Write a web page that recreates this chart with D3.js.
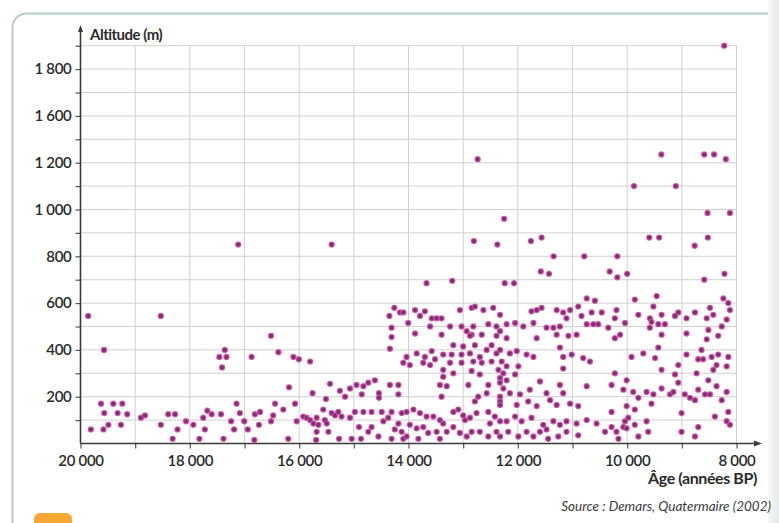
<!DOCTYPE html>
<html>
<head>
<meta charset="utf-8">
<script src="https://cdn.jsdelivr.net/npm/d3@7"></script>
<style>
  html, body { margin: 0; padding: 0; background: #fff; }
  svg { display: block; }
  text { font-family: Lato, "Open Sans", "DejaVu Sans", sans-serif; fill: #2a2a2a; }
</style>
</head>
<body>
<svg id="chart" width="779" height="523"></svg>
<script>
// Ages (years BP) on the horizontal axis, oldest on the left
const xTickValues = d3.range(20000, 7999, -1000);
const xLabelValues = [20000, 18000, 16000, 14000, 12000, 10000, 8000];
// Altitude ticks as printed on the vertical axis (note the jump 1 200 -> 1 600)
const yLabelValues = [200, 400, 600, 800, 1000, 1200, 1600, 1800];
const yGridValues = [100, 200, 300, 400, 500, 600, 700, 800, 900, 1000, 1100, 1200, 1400, 1600, 1700, 1800, 1900];

const yAxisTitle = "Altitude (m)";
const xAxisTitle = "Âge (années BP)";
const sourceNote = "Source : Demars, Quatermaire (2002)";

// Sites [age BP, altitude m] — before 17 000 BP
const sitesOldest = [
  [19860,545],[18530,545],[19570,400],[17460,370],[17360,400],[17330,370],[17410,325],
  [19625,170],[19400,170],[19235,170],[19565,130],[19320,130],[19145,125],[19810,60],[19580,60],
  [19490,80],[19260,80],[18895,110],[18820,120],[18530,80],[18395,125],[18270,125],[18225,60],
  [18315,20],[18070,95],[17935,80],[17825,20],[17755,110],[17680,140],[17600,125],[17725,60],
  [17430,125],[17385,20],[17245,95],[17190,60],[17145,170],[17115,850]
];

// Sites between 17 000 and 14 000 BP
const sitesLateGlacial = [
  [14350,545],[14260,580],[14155,560],[14095,560],[14310,495],[14310,455],[14340,405],[14095,345],
  [16515,460],[16870,370],[16380,390],[16105,370],[16005,360],[15800,350],[16185,240],[15755,215],
  [15435,255],[15510,190],[15255,225],[15160,200],[15070,235],[14950,250],[14825,245],[14735,260],
  [14615,270],[14855,210],[14540,215],[14540,195],[14340,250],[14185,250],[14185,210],
  [17085,130],[17005,95],[16940,60],[16820,15],[16810,125],[16715,135],[16735,80],[16515,95],
  [16475,120],[16440,170],[16290,145],[16200,20],[16075,170],[16045,95],[15925,115],[15865,110],
  [15800,100],[15740,85],[15680,110],[15650,80],[15560,145],[15530,100],[15495,85],[15405,130],
  [15345,120],[15285,135],[15225,115],[15070,110],[14980,135],[14825,135],[14675,135],[14490,135],
  [14310,135],[14125,130],[15680,50],[15690,15],[15465,50],[15270,20],[15040,20],[14870,20],
  [14905,70],[14735,50],[14675,70],[14550,30],[14460,95],[14370,110],[14310,20],[14250,60],
  [14185,85],[14125,50],[14095,20],[15405,850]
];

// Sites between 14 000 and 11 000 BP
const sitesBolling = [
  [13880,570],[13790,545],[13700,565],[13575,535],[13485,535],[13395,535],[13060,570],[12845,580],
  [12785,585],[12630,570],[12450,580],[12325,550],[11750,565],[11655,570],[11565,580],[11290,570],
  [11170,560],[11110,535],
  [14005,515],[13605,500],[13240,500],[13030,500],[12935,480],[12845,465],[12815,500],[12540,510],
  [12390,500],[12325,480],[12205,510],[12050,515],[11900,500],[11715,515],[11475,495],[11350,495],
  [11230,500],[13880,470],[13395,465],[12875,460],[12660,465],[12390,460],[12205,450],[11655,450],
  [11290,465],
  [13180,420],[13000,415],[12785,420],[12480,420],[12325,400],[14035,370],[13850,385],[13700,370],
  [13575,395],[13515,360],[13365,380],[13210,380],[13030,380],[12875,385],[12695,370],[12570,400],
  [12390,385],[12145,385],[12020,395],[11840,380],[11715,370],[11230,410],[11170,370],[13730,345],
  [13605,335],[13240,345],[13030,345],[12815,350],[12660,345],[12480,350],[12295,350],[12205,330],
  [12355,315],[12265,300],[11990,330],[13975,335],[11170,320],
  [13365,315],[13365,285],[13180,300],[12845,310],[12695,295],[12325,280],[12205,270],[12050,295],
  [13425,250],[13300,245],[12905,250],[12540,250],[12325,260],[12265,235],[12325,200],[12325,180],
  [13395,200],[12725,200],[12570,215],[12145,215],[11960,210],[11780,230],[11595,265],[11475,215],
  [11230,250],[11170,215],
  [12785,180],[12325,165],[12020,165],[11810,180],[11655,160],[11410,185],[11290,165],[14035,135],
  [13910,145],[13790,130],[13670,115],[13545,115],[13425,100],[13365,85],[13180,135],[13090,145],
  [13000,120],[12965,100],[12875,110],[12755,130],[12540,135],[12420,115],[12510,85],[12325,95],
  [12205,95],[12050,115],[11930,95],[11750,110],[11535,80],[11475,60],[11350,95],[11230,80],
  [11110,50],[13975,80],[13850,65],[13730,70],[13640,45],[13485,50],[13300,50],[13180,70],
  [13060,45],[12935,30],[12845,50],[12695,50],[12540,30],[12390,50],[12325,30],[12175,50],
  [11990,30],[11840,50],[11715,30],[11595,50],[11445,20],[11260,30],[14035,30],[13820,20],[13425,20],
  [12735,1230],[12250,960],[12805,865],[12375,850],[11760,865],[11565,880],[11345,800],
  [11580,735],[11430,725],[13670,685],[13200,695],[12240,685],[12070,685]
];

// Sites after 11 000 BP
const sitesHolocene = [
  [10740,620],[10590,610],[10895,585],[11045,570],[10835,545],[10650,560],[10465,560],[10195,570],
  [9860,615],[9795,550],[9460,630],[9520,585],[9370,550],[9585,535],[9555,520],[9430,510],
  [9310,510],[9065,560],[8915,535],[8760,560],[8485,580],[8545,535],[8425,550],[8240,620],
  [8150,600],[8120,570],[8180,530],[8270,500],[8335,460],[8515,485],[8545,445],[8915,470],
  [9125,545],[9585,495],[9370,465],[10040,515],[10225,535],[10345,495],[10225,450],[10130,465],
  [10530,510],[10620,510],[10740,510],[10925,465],[11075,460],
  [11015,380],[10805,365],[10680,350],[9920,370],[9705,385],[9490,365],[9430,410],[8915,380],
  [8640,400],[8700,360],[8610,360],[8455,370],[8335,380],[8365,335],[8425,315],[8150,370],[8180,330],
  [10225,300],[10010,270],[9370,315],[9125,295],[9065,335],[8730,300],[8515,270],[8365,245],
  [8180,220],[10740,245],[10285,250],[10070,230],[9890,220],[9795,195],[9645,220],[9520,210],
  [9370,235],[9215,210],[9155,220],[9065,260],[8945,210],[8850,195],[8760,185],[8700,230],
  [8575,210],[8485,210],[8270,185],[11045,170],[10895,160],
  [10285,135],[10010,160],[9860,145],[9980,110],[10040,95],[10070,70],[10010,65],[9860,80],
  [9645,95],[9555,170],[9005,130],[8395,115],[8150,135],[8120,80],[8180,95],[10925,85],
  [10740,100],[10560,85],[10405,50],[10285,70],[10195,50],[10160,20],[9795,30],[9615,50],
  [9005,50],[8700,70],[8760,30],[10895,35],[11110,95],
  [8225,1900],[9375,1270],[8590,1270],[8410,1270],[8195,1230],[9875,1100],[9110,1100],
  [8530,985],[8120,985],[9595,880],[9415,880],[8765,845],[8525,880],[10785,800],[10180,800],
  [10320,735],[10180,710],[10000,725],[8590,700],[8220,725]
];

const allSites = [].concat(sitesOldest, sitesLateGlacial, sitesBolling, sitesHolocene);

// ---- layout ----
const W = 779, H = 523;
const plot = { left: 80.5, right: 736.5, top: 45.7, bottom: 443.5 };
const step = (plot.bottom - plot.top) / 17; // one grid row

const svg = d3.select("#chart");

const fr = d3.formatLocale({ decimal: ",", thousands: "\u00a0", grouping: [3], currency: ["", " €"] });
const fmt = fr.format(",d");

const x = d3.scaleLinear().domain([20000, 8000]).range([plot.left, plot.right]);
// printed scale is linear up to 1 200, then one 200-m step covers 1 200 -> 1 600
const y = d3.scaleLinear()
  .domain([0, 1200, 1600, 1900])
  .range([plot.bottom, plot.bottom - 12 * step, plot.bottom - 14 * step, plot.bottom - 17 * step]);

// framed panel
svg.append("rect").attr("x", 0).attr("y", 0).attr("width", W).attr("height", H).attr("fill", "#ffffff");
svg.append("rect")
  .attr("x", 12.5).attr("y", 13.5).attr("width", 790).attr("height", 600).attr("rx", 14)
  .attr("fill", "#ffffff").attr("stroke", "#b7cbcf").attr("stroke-width", 2);
// page edge on the right
const grad = svg.append("defs").append("linearGradient").attr("id", "edge").attr("x1", 0).attr("x2", 1);
grad.append("stop").attr("offset", 0).attr("stop-color", "#f7f8f8");
grad.append("stop").attr("offset", 1).attr("stop-color", "#e4e7e8");
svg.append("rect").attr("x", 768).attr("y", 0).attr("width", 11).attr("height", H).attr("fill", "url(#edge)");
// tab at the bottom left
svg.append("rect").attr("x", 34).attr("y", 513).attr("width", 38).attr("height", 20).attr("rx", 6).attr("fill", "#f6a833");

// grid
const grid = svg.append("g").attr("stroke", "#d0d0d0").attr("stroke-width", 1);
grid.selectAll("line.h").data(yGridValues).join("line").attr("class", "h")
  .attr("x1", plot.left).attr("x2", plot.right)
  .attr("y1", d => y(d)).attr("y2", d => y(d));
grid.selectAll("line.v").data(xTickValues.slice(1)).join("line").attr("class", "v")
  .attr("x1", d => x(d)).attr("x2", d => x(d))
  .attr("y1", plot.top).attr("y2", plot.bottom);

// axes
const labelSetY = new Set(yLabelValues);
const labelSetX = new Set(xLabelValues);
const yAxis = svg.append("g").attr("transform", `translate(${plot.left},0)`)
  .call(d3.axisLeft(y).tickValues(yGridValues).tickSize(5).tickPadding(4)
    .tickFormat(d => labelSetY.has(d) ? fmt(d) : ""));
const xAxis = svg.append("g").attr("transform", `translate(0,${plot.bottom})`)
  .call(d3.axisBottom(x).tickValues(xTickValues).tickSize(5).tickPadding(7)
    .tickFormat(d => labelSetX.has(d) ? fmt(d) : ""));

[yAxis, xAxis].forEach(g => {
  g.select(".domain").remove();
  g.selectAll(".tick line").attr("stroke", "#555").attr("stroke-width", 1.2);
  g.selectAll(".tick text").attr("fill", "#2a2a2a")
    .style("font-size", "15px").style("font-weight", "600")
    .style("letter-spacing", "-0.3px");
});

// axis lines with arrows
const axisColor = "#3a3a3a";
svg.append("line").attr("x1", plot.left).attr("x2", plot.left).attr("y1", plot.bottom).attr("y2", 28)
  .attr("stroke", axisColor).attr("stroke-width", 1.6);
svg.append("path").attr("d", `M${plot.left - 2.5},32 L${plot.left},25 L${plot.left + 2.5},32 Z`).attr("fill", axisColor);
svg.append("line").attr("x1", plot.left).attr("x2", 758).attr("y1", plot.bottom).attr("y2", plot.bottom)
  .attr("stroke", axisColor).attr("stroke-width", 1.6);
svg.append("path").attr("d", `M754,${plot.bottom - 3} L762,${plot.bottom} L754,${plot.bottom + 3} Z`).attr("fill", axisColor);

// titles
svg.append("text").attr("x", 90).attr("y", 40).text(yAxisTitle)
  .style("font-size", "15px").style("font-weight", "700").style("letter-spacing", "-0.5px");
svg.append("text").attr("x", 757).attr("y", 484).attr("text-anchor", "end").text(xAxisTitle)
  .style("font-size", "16px").style("font-weight", "700").style("letter-spacing", "-0.4px");
svg.append("text").attr("x", 771).attr("y", 511).attr("text-anchor", "end").text(sourceNote)
  .style("font-size", "13.5px").style("font-style", "italic").style("fill", "#3a3a3a");

// sites
svg.append("g").selectAll("circle").data(allSites).join("circle")
  .attr("cx", d => x(d[0])).attr("cy", d => y(d[1])).attr("r", 2.5)
  .attr("fill", "#74336c").attr("stroke", "#d248a6").attr("stroke-width", 1.3).attr("stroke-opacity", 0.85);
</script>
</body>
</html>
